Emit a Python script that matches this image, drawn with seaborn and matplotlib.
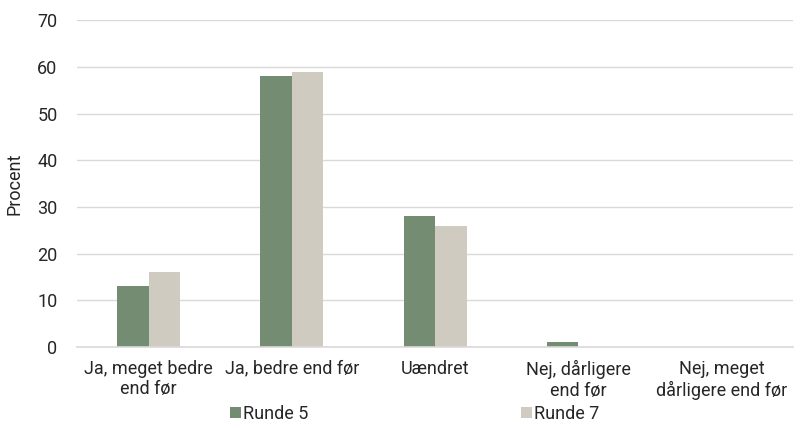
import matplotlib
matplotlib.use("Agg")
import matplotlib.pyplot as plt
from matplotlib.patches import Patch
import seaborn as sns
import pandas as pd

categories = ["Ja, meget bedre\nend før", "Ja, bedre end før", "Uændret",
              "Nej, dårligere\nend før", "Nej, meget\ndårligere end før"]
runde_5 = [13, 58, 28, 1, 0]
runde_7 = [16, 59, 26, 0, 0]
series = ["Runde 5", "Runde 7"]
colors = ["#738C72", "#CFCBC0"]

df = pd.DataFrame({
    "kategori": categories * 2,
    "procent": runde_5 + runde_7,
    "runde": [series[0]] * len(categories) + [series[1]] * len(categories),
})

sns.set_theme(style="white")
plt.rcParams["font.family"] = ["Roboto", "DejaVu Sans"]

fig = plt.figure(figsize=(8.04, 4.28), dpi=100)
ax = fig.add_axes([0.0958, 0.189, 0.891, 0.764])

sns.barplot(data=df, x="kategori", y="procent", hue="runde", palette=colors,
            width=0.44, gap=0.0, ax=ax, legend=False, saturation=1,
            edgecolor="none")

ax.set_ylim(0, 70)
ax.set_yticks(range(0, 71, 10))
ax.set_xlim(-0.5, len(categories) - 0.5)
ax.yaxis.grid(True, color="#D9D9D9", linewidth=1)
ax.set_axisbelow(True)
for side in ["left", "right", "top"]:
    ax.spines[side].set_visible(False)
ax.spines["bottom"].set_color("#D9D9D9")
ax.spines["bottom"].set_linewidth(1.2)
ax.tick_params(axis="y", length=0, labelsize=13, colors="#262626", pad=14)
ax.tick_params(axis="x", length=0, labelsize=13, colors="#262626", pad=9)
ax.set_xlabel("")
ax.set_ylabel("Procent", fontsize=13, color="#262626", labelpad=10)

handles = [Patch(facecolor=c, edgecolor="none") for c in colors]
fig.legend(handles, series, loc="center", bbox_to_anchor=(0.516, 0.033),
           ncol=2, frameon=False, fontsize=13, handlelength=0.6,
           handleheight=0.6, handletextpad=0.1, columnspacing=11.8,
           labelcolor="#262626")

fig.savefig("out.png", dpi=100)
